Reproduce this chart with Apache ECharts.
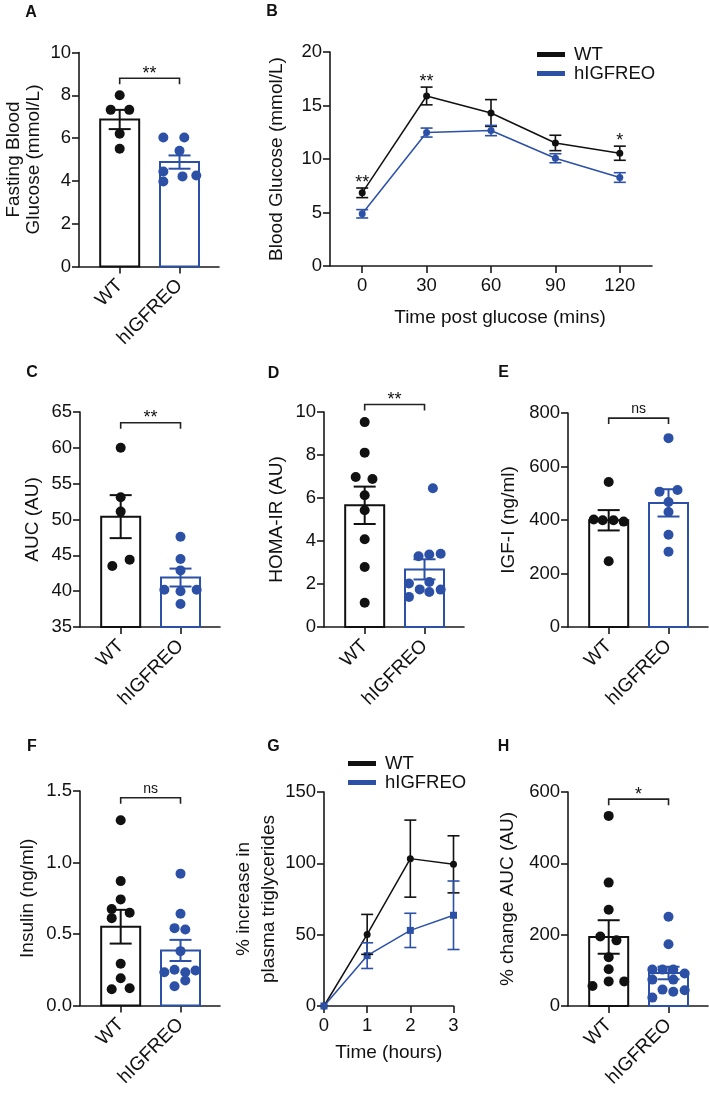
<!DOCTYPE html>
<html><head><meta charset="utf-8">
<script src="https://cdn.jsdelivr.net/npm/echarts@6/dist/echarts.min.js"></script>
<style>html,body{margin:0;padding:0;background:#fff}#c{width:709px;height:1097px}</style>
</head><body><div id="c"></div>
<script>
// ---------- DATA ----------
const groups = ['WT', 'hIGFREO'];

// A: Fasting blood glucose (mmol/L)
const aWT = [8.0, 7.32, 7.32, 6.2, 5.5];
const aWTJit = [0, -0.15, 0.16, 0, 0];
const aKO = [6.03, 6.03, 5.41, 4.44, 3.97, 4.21, 4.25];
const aKOJit = [-0.27, 0.08, 0, -0.27, -0.27, 0.05, 0.28];
const aMean = [6.87, 4.88];
const aSem = [0.45, 0.31];
const aSig = { y: 8.8, label: '**' };

// B: GTT blood glucose (mmol/L)
const bTimes = [0, 30, 60, 90, 120];
const bTimeTicks = [0, 30, 60, 90, 120];
const bWT = [6.84, 15.89, 14.3, 11.5, 10.54];
const bWTSem = [0.45, 0.83, 1.25, 0.72, 0.66];
const bKO = [4.88, 12.47, 12.66, 10.07, 8.27];
const bKOSem = [0.39, 0.42, 0.48, 0.42, 0.45];
const bSig = ['**', '**', '', '', '*'];

// C: AUC (AU)
const cWT = [60, 53.1, 51.1, 43.5, 44.4];
const cWTJit = [0, 0, 0, -0.14, 0.15];
const cKO = [47.6, 44.5, 42.9, 40.2, 40.0, 40.2, 38.2];
const cKOJit = [0, 0, 0, -0.27, 0, 0.27, 0];
const cMean = [50.4, 41.9];
const cSem = [3.0, 1.25];
const cSig = { y: 63.5, label: '**' };

// D: HOMA-IR (AU)
const dWT = [9.53, 8.11, 6.98, 6.88, 6.13, 5.43, 4.08, 2.79, 1.13];
const dWTJit = [0, 0, -0.15, 0.13, 0, 0, 0, 0, 0];
const dKO = [6.45, 3.29, 3.37, 3.41, 2.02, 2.09, 1.75, 1.63, 1.74, 1.40];
const dKOJit = [0.14, -0.1, 0.08, 0.27, -0.26, 0.08, -0.08, 0.08, 0.27, -0.26];
const dMean = [5.66, 2.68];
const dSem = [0.87, 0.47];
const dSig = { y: 10.35, label: '**' };

// E: IGF-I (ng/ml)
const eWT = [542, 402, 399, 399, 394, 246];
const eWTJit = [0, -0.25, -0.1, 0.08, 0.25, 0];
const eKO = [706, 506, 512, 467, 430, 345, 281];
const eKOJit = [0, -0.15, 0.15, 0, 0, 0, 0];
const eMean = [399, 464];
const eSem = [38, 51];
const eSig = { y: 781, label: 'ns' };

// F: Insulin (ng/ml)
const fWT = [1.295, 0.87, 0.742, 0.674, 0.649, 0.611, 0.292, 0.191, 0.114, 0.121];
const fWTJit = [0, 0, 0, -0.15, 0.15, -0.15, 0, 0, -0.15, 0.15];
const fKO = [0.922, 0.642, 0.541, 0.532, 0.38, 0.233, 0.25, 0.233, 0.245, 0.135, 0.175];
const fKOJit = [0, 0, -0.1, 0.08, 0, -0.27, -0.1, 0.08, 0.25, -0.1, 0.08];
const fMean = [0.551, 0.385];
const fSem = [0.118, 0.074];
const fSig = { y: 1.453, label: 'ns' };

// G: % increase in plasma triglycerides
const gTimes = [0, 1, 2, 3];
const gWT = [0, 50.2, 103.3, 99.3];
const gWTSem = [0, 14, 27, 20];
const gKO = [0, 35.3, 53, 63.6];
const gKOSem = [0, 9, 12, 24];

// H: % change AUC (AU)
const hWT = [533, 346, 270, 195, 184, 137, 103, 56, 69, 69];
const hWTJit = [0, 0, 0, -0.14, 0.13, 0, 0, -0.27, 0, 0.26];
const hKO = [250, 173, 102, 102, 102, 91, 74, 74, 46, 40, 44, 23.5];
const hKOJit = [0, 0, -0.27, -0.1, 0.08, 0.27, -0.27, 0.08, -0.1, 0.08, 0.27, -0.27];
const hMean = [193.5, 92.5];
const hSem = [47, 17.6];
const hSig = { y: 580, label: '*' };

// ---------- STYLE ----------
const BLACK = '#111111';
const BLUE = '#2b50a6';
const AXIS = '#1a1a1a';
const FONT = '"Liberation Sans", Arial, Helvetica, sans-serif';
const TICK_FS = 18.5, NAME_FS = 19, CAT_FS = 19;

const chart = echarts.init(document.getElementById('c'), null, { renderer: 'canvas', width: 709, height: 1097 });

const series = [];

function yAxisBase(gi, y, name, nameGap, lineHeight, fmt) {
  return {
    type: 'value', gridIndex: gi, min: y.min, max: y.max, interval: y.interval,
    name: name, nameLocation: 'middle', nameGap: nameGap, nameRotate: 90,
    nameTextStyle: { fontSize: NAME_FS, fontFamily: FONT, color: BLACK, lineHeight: lineHeight || 20, align: 'center' },
    axisLine: { show: true, onZero: false, lineStyle: { color: AXIS, width: 1.6 } },
    axisTick: { show: true, inside: false, length: 7, lineStyle: { color: AXIS, width: 1.6 } },
    axisLabel: { fontSize: TICK_FS, fontFamily: FONT, color: BLACK, margin: 8, formatter: fmt },
    splitLine: { show: false }
  };
}

function renderBar(params, api) {
  const cs = params.coordSys;
  const p = api.coord([api.value(0), api.value(1)]);
  const bottom = cs.y + cs.height;
  const col = params.dataIndex === 0 ? BLACK : BLUE;
  return { type: 'rect', shape: { x: p[0] - 19.5, y: p[1], width: 39, height: bottom - p[1] },
    style: { fill: '#ffffff', stroke: col, lineWidth: 2 } };
}

function makeErr(capHalf, lw, colorFn) {
  return function (params, api) {
    const x = api.value(0), m = api.value(1), s = api.value(2);
    if (!s) return null;
    const top = api.coord([x, m + s]), bot = api.coord([x, m - s]);
    const st = { stroke: colorFn(params), lineWidth: lw, fill: null };
    return { type: 'group', children: [
      { type: 'line', shape: { x1: top[0], y1: top[1], x2: bot[0], y2: bot[1] }, style: st },
      { type: 'line', shape: { x1: top[0] - capHalf, y1: top[1], x2: top[0] + capHalf, y2: top[1] }, style: st },
      { type: 'line', shape: { x1: bot[0] - capHalf, y1: bot[1], x2: bot[0] + capHalf, y2: bot[1] }, style: st }
    ] };
  };
}

function makeSig(label) {
  return function (params, api) {
    const y = api.value(0);
    const p0 = api.coord([0, y]), p1 = api.coord([1, y]);
    const isNs = label === 'ns';
    return { type: 'group', children: [
      { type: 'polyline', shape: { points: [[p0[0], p0[1] + 6], [p0[0], p0[1]], [p1[0], p1[1]], [p1[0], p1[1] + 6]] },
        style: { stroke: '#222', lineWidth: 1.6, fill: null } },
      { type: 'text', style: { text: label, x: (p0[0] + p1[0]) / 2, y: p0[1] - (isNs ? 9 : 4.5),
        textAlign: 'center', textVerticalAlign: 'middle',
        font: (isNs ? '14px ' : '18px ') + FONT, fill: BLACK } }
    ] };
  };
}

// ---------- BAR + DOT PANELS ----------
const barPanels = [
  { gi: 0, grid: { left: 79, top: 52.5, width: 140, height: 214 }, y: { min: 0, max: 10, interval: 2 },
    name: 'Fasting Blood\nGlucose (mmol/L)', nameGap: 35.5, lh: 20,
    wt: aWT, wtJ: aWTJit, ko: aKO, koJ: aKOJit, mean: aMean, sem: aSem, sig: aSig },
  { gi: 2, grid: { left: 80, top: 412, width: 140, height: 215 }, y: { min: 35, max: 65, interval: 5 },
    name: 'AUC (AU)', nameGap: 37,
    wt: cWT, wtJ: cWTJit, ko: cKO, koJ: cKOJit, mean: cMean, sem: cSem, sig: cSig },
  { gi: 3, grid: { left: 324, top: 412, width: 140, height: 215 }, y: { min: 0, max: 10, interval: 2 },
    name: 'HOMA-IR (AU)', nameGap: 37,
    wt: dWT, wtJ: dWTJit, ko: dKO, koJ: dKOJit, mean: dMean, sem: dSem, sig: dSig },
  { gi: 4, grid: { left: 568, top: 413, width: 140, height: 214 }, y: { min: 0, max: 800, interval: 200 },
    name: 'IGF-I (ng/ml)', nameGap: 49,
    wt: eWT, wtJ: eWTJit, ko: eKO, koJ: eKOJit, mean: eMean, sem: eSem, sig: eSig },
  { gi: 5, grid: { left: 80, top: 791, width: 140, height: 214.5 }, y: { min: 0, max: 1.5, interval: 0.5 },
    name: 'Insulin (ng/ml)', nameGap: 42, fmt: v => v.toFixed(1),
    wt: fWT, wtJ: fWTJit, ko: fKO, koJ: fKOJit, mean: fMean, sem: fSem, sig: fSig },
  { gi: 7, grid: { left: 568, top: 792, width: 140, height: 214 }, y: { min: 0, max: 600, interval: 200 },
    name: '% change AUC (AU)', nameGap: 50,
    wt: hWT, wtJ: hWTJit, ko: hKO, koJ: hKOJit, mean: hMean, sem: hSem, sig: hSig }
];

const linePanels = {
  B: { gi: 1, grid: { left: 330, top: 52, width: 322, height: 214 } },
  G: { gi: 6, grid: { left: 324, top: 792, width: 129.5, height: 214 } }
};

const gridList = new Array(8);
const xList = new Array(8);
const yList = new Array(8);

barPanels.forEach(p => {
  gridList[p.gi] = Object.assign({ containLabel: false }, p.grid);
  xList[p.gi] = {
    type: 'value', gridIndex: p.gi, min: -0.68, max: 1.66,
    axisLine: { show: true, onZero: false, lineStyle: { color: AXIS, width: 1.6 } },
    axisTick: { show: true, length: 7, customValues: [0, 1], lineStyle: { color: AXIS, width: 1.6 } },
    axisLabel: { show: true, customValues: [0, 1], rotate: 45, margin: 16, fontSize: CAT_FS, fontFamily: FONT, color: BLACK,
      formatter: v => groups[Math.round(v)] },
    splitLine: { show: false }
  };
  yList[p.gi] = yAxisBase(p.gi, p.y, p.name, p.nameGap, p.lh, p.fmt);

  series.push({
    type: 'custom', name: 'bars' + p.gi, xAxisIndex: p.gi, yAxisIndex: p.gi, z: 2,
    renderItem: renderBar, data: p.mean.map((m, i) => [i, m]), clip: false
  });
  series.push({
    type: 'scatter', name: 'WT points ' + p.gi, xAxisIndex: p.gi, yAxisIndex: p.gi, z: 3,
    symbol: 'circle', symbolSize: 10, itemStyle: { color: BLACK, opacity: 1 },
    data: p.wt.map((v, i) => [0 + p.wtJ[i], v])
  });
  series.push({
    type: 'scatter', name: 'hIGFREO points ' + p.gi, xAxisIndex: p.gi, yAxisIndex: p.gi, z: 3,
    symbol: 'circle', symbolSize: 10, itemStyle: { color: BLUE, opacity: 1 },
    data: p.ko.map((v, i) => [1 + p.koJ[i], v])
  });
  series.push({
    type: 'custom', name: 'sem' + p.gi, xAxisIndex: p.gi, yAxisIndex: p.gi, z: 4,
    renderItem: makeErr(11, 2, prm => prm.dataIndex === 0 ? BLACK : BLUE),
    data: p.mean.map((m, i) => [i, m, p.sem[i]]), clip: false
  });
  series.push({
    type: 'custom', name: 'sig' + p.gi, xAxisIndex: p.gi, yAxisIndex: p.gi, z: 4,
    renderItem: makeSig(p.sig.label), data: [[p.sig.y]], clip: false
  });
});

// Panel B
(function () {
  const gi = linePanels.B.gi;
  gridList[gi] = Object.assign({ containLabel: false }, linePanels.B.grid);
  xList[gi] = {
    type: 'value', gridIndex: gi, min: -15, max: 135,
    name: 'Time post glucose (mins)', nameLocation: 'middle', nameGap: 42,
    nameTextStyle: { fontSize: NAME_FS, fontFamily: FONT, color: BLACK, padding: [0, 0, 0, 18] },
    axisLine: { show: true, onZero: false, lineStyle: { color: AXIS, width: 1.6 } },
    axisTick: { show: true, length: 7, customValues: bTimeTicks, lineStyle: { color: AXIS, width: 1.6 } },
    axisLabel: { customValues: bTimeTicks, margin: 10, fontSize: TICK_FS, fontFamily: FONT, color: BLACK },
    splitLine: { show: false }
  };
  yList[gi] = yAxisBase(gi, { min: 0, max: 20, interval: 5 }, 'Blood Glucose (mmol/L)', 43);
  series.push({ type: 'line', name: 'WT', xAxisIndex: gi, yAxisIndex: gi, z: 3, color: BLACK,
    symbol: 'circle', symbolSize: 7, showSymbol: true, lineStyle: { color: BLACK, width: 1.5 }, itemStyle: { color: BLACK },
    data: bTimes.map((t, i) => [t, bWT[i]]) });
  series.push({ type: 'line', name: 'hIGFREO', xAxisIndex: gi, yAxisIndex: gi, z: 3, color: BLUE,
    symbol: 'circle', symbolSize: 7, showSymbol: true, lineStyle: { color: BLUE, width: 1.5 }, itemStyle: { color: BLUE },
    data: bTimes.map((t, i) => [t, bKO[i]]) });
  series.push({ type: 'custom', name: 'bWTsem', xAxisIndex: gi, yAxisIndex: gi, z: 4, clip: false,
    renderItem: makeErr(6, 1.6, () => BLACK), data: bTimes.map((t, i) => [t, bWT[i], bWTSem[i]]) });
  series.push({ type: 'custom', name: 'bKOsem', xAxisIndex: gi, yAxisIndex: gi, z: 4, clip: false,
    renderItem: makeErr(6, 1.6, () => BLUE), data: bTimes.map((t, i) => [t, bKO[i], bKOSem[i]]) });
  series.push({ type: 'custom', name: 'bSig', xAxisIndex: gi, yAxisIndex: gi, z: 4, clip: false,
    data: bTimes.map((t, i) => [t, bWT[i] + bWTSem[i], i]),
    renderItem: function (params, api) {
      const txt = bSig[api.value(2)];
      if (!txt) return null;
      const p = api.coord([api.value(0), api.value(1)]);
      return { type: 'text', style: { text: txt, x: p[0], y: p[1] - 5, textAlign: 'center', textVerticalAlign: 'middle',
        font: '18px ' + FONT, fill: BLACK } };
    } });
})();

// Panel G
(function () {
  const gi = linePanels.G.gi;
  gridList[gi] = Object.assign({ containLabel: false }, linePanels.G.grid);
  xList[gi] = {
    type: 'value', gridIndex: gi, min: 0, max: 3, interval: 1,
    name: 'Time (hours)', nameLocation: 'middle', nameGap: 37,
    nameTextStyle: { fontSize: NAME_FS, fontFamily: FONT, color: BLACK },
    axisLine: { show: true, onZero: false, lineStyle: { color: AXIS, width: 1.6 } },
    axisTick: { show: true, length: 7, lineStyle: { color: AXIS, width: 1.6 } },
    axisLabel: { margin: 10, fontSize: TICK_FS, fontFamily: FONT, color: BLACK },
    splitLine: { show: false }
  };
  yList[gi] = yAxisBase(gi, { min: 0, max: 150, interval: 50 }, '% increase in\nplasma triglycerides', 36, 25);
  series.push({ type: 'line', name: 'WT', xAxisIndex: gi, yAxisIndex: gi, z: 3, color: BLACK,
    symbol: 'circle', symbolSize: 7, showSymbol: true, lineStyle: { color: BLACK, width: 1.5 }, itemStyle: { color: BLACK },
    data: gTimes.map((t, i) => [t, gWT[i]]) });
  series.push({ type: 'line', name: 'hIGFREO', xAxisIndex: gi, yAxisIndex: gi, z: 3, color: BLUE,
    symbol: 'rect', symbolSize: 7, showSymbol: true, lineStyle: { color: BLUE, width: 1.5 }, itemStyle: { color: BLUE },
    data: gTimes.map((t, i) => [t, gKO[i]]) });
  series.push({ type: 'custom', name: 'gWTsem', xAxisIndex: gi, yAxisIndex: gi, z: 4, clip: false,
    renderItem: makeErr(6, 1.6, () => BLACK), data: gTimes.map((t, i) => [t, gWT[i], gWTSem[i]]) });
  series.push({ type: 'custom', name: 'gKOsem', xAxisIndex: gi, yAxisIndex: gi, z: 4, clip: false,
    renderItem: makeErr(6, 1.6, () => BLUE), data: gTimes.map((t, i) => [t, gKO[i], gKOSem[i]]) });
})();

const legendCommon = {
  orient: 'vertical', itemWidth: 28, itemHeight: 5, itemGap: 0, icon: 'rect', selectedMode: false, padding: 0,
  data: ['WT', 'hIGFREO'],
  textStyle: { fontSize: 18.5, fontFamily: FONT, color: BLACK, lineHeight: 18, padding: [0, 0, 0, 4] }
};

const letters = [
  ['A', 31, 13], ['B', 272, 12], ['C', 32, 373], ['D', 273.5, 373.5],
  ['E', 503.5, 373], ['F', 32, 747], ['G', 273.5, 747], ['H', 503.5, 747]
];

chart.setOption({
  animation: false,
  backgroundColor: '#ffffff',
  textStyle: { fontFamily: FONT },
  grid: gridList,
  xAxis: xList,
  yAxis: yList,
  legend: [
    Object.assign({}, legendCommon, { left: 537, top: 45 }),
    Object.assign({}, legendCommon, { left: 348, top: 754 })
  ],
  graphic: letters.map(l => ({
    type: 'text', x: l[1], y: l[2],
    style: { text: l[0], font: 'bold 16px ' + FONT, fill: BLACK, textAlign: 'center', textVerticalAlign: 'middle' }
  })),
  series: series
});
</script>
</body></html>
